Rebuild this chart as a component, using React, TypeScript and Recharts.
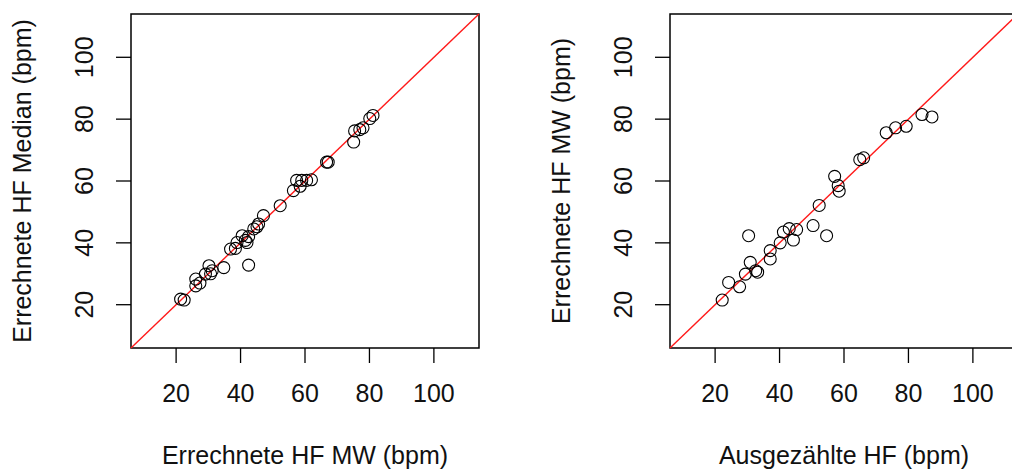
import {
  ReferenceArea,
  ReferenceLine,
  Scatter,
  ScatterChart,
  XAxis,
  YAxis,
} from "recharts";

// left panel: Errechnete HF MW (x) vs Errechnete HF Median (y)
const medianX = [
  21.4, 22.5, 26.1, 26.1, 27.4, 29.1, 30.2, 31.2, 30.7, 34.8, 42.5, 36.9, 38.4,
  38.9, 40.5, 41.5, 42.0, 42.5, 44.1, 45.1, 45.6, 47.1, 52.3, 56.4, 57.4, 58.5,
  59.0, 60.5, 62.0, 66.7, 67.2, 75.1, 75.4, 77.0, 78.0, 80.1, 81.1,
];
const medianY = [
  21.8, 21.5, 26.1, 28.3, 27.0, 29.9, 32.6, 31.0, 30.0, 32.0, 32.8, 38.0, 38.2,
  40.1, 42.3, 40.8, 40.1, 42.0, 44.5, 45.2, 46.1, 48.8, 52.0, 56.9, 60.2, 58.3,
  60.2, 60.2, 60.4, 66.1, 66.1, 72.6, 76.2, 76.6, 77.2, 80.2, 81.2,
];

// right panel: Ausgezählte HF (x) vs Errechnete HF MW (y)
const countedX = [
  22.2, 24.2, 27.6, 29.4, 30.4, 30.9, 33.2, 32.6, 37.1, 37.1, 40.2, 41.2, 43.0,
  44.3, 45.3, 50.4, 52.3, 54.6, 57.1, 58.2, 58.5, 64.9, 66.1, 73.1, 76.0, 79.3,
  84.2, 87.3,
];
const countedY = [
  21.5, 27.2, 25.8, 29.9, 42.3, 33.7, 30.5, 31.0, 37.5, 34.8, 40.0, 43.5, 44.6,
  40.9, 44.3, 45.6, 52.1, 42.3, 61.5, 58.5, 56.7, 66.9, 67.5, 75.6, 77.2, 77.7,
  81.5, 80.7,
];

const axisTicks = [20, 40, 60, 80, 100];
const axisDomain: [number, number] = [6, 114];

const FONT = "'Liberation Sans', Arial, Helvetica, sans-serif";
const FONT_SIZE = 25;

const toPoints = (xs: number[], ys: number[]) => xs.map((x, i) => ({ x, y: ys[i] }));

const XTick = ({ x, y, payload }: any) => (
  <text x={x} y={y + 39} textAnchor="middle" fontFamily={FONT} fontSize={FONT_SIZE} fill="#111">
    {payload.value}
  </text>
);

const YTick = ({ x, y, payload }: any) => {
  const bx = x - 23;
  return (
    <text
      x={bx}
      y={y}
      transform={`rotate(-90 ${bx} ${y})`}
      textAnchor="middle"
      fontFamily={FONT}
      fontSize={FONT_SIZE}
      fill="#111"
    >
      {payload.value}
    </text>
  );
};

const OpenCircle = (props: any) => (
  <circle cx={props.cx} cy={props.cy} r={6} fill="none" stroke="#000" strokeWidth={1.1} />
);

type PanelProps = {
  xs: number[];
  ys: number[];
  xTitle: string;
  yTitle: string;
  width: number;
  axisWidth: number;
};

function Panel({ xs, ys, xTitle, yTitle, width, axisWidth }: PanelProps) {
  const data = toPoints(xs, ys);
  const plotW = 348;
  return (
    <ScatterChart
      width={width}
      height={472}
      margin={{ top: 14, right: width - axisWidth - plotW, bottom: 0, left: 0 }}
    >
      <XAxis
        type="number"
        dataKey="x"
        domain={axisDomain}
        ticks={axisTicks}
        allowDataOverflow
        height={124}
        axisLine={false}
        tickSize={15}
        tickMargin={0}
        tickLine={{ stroke: "#000", strokeWidth: 1.3 }}
        tick={<XTick />}
        label={{
          content: ({ viewBox }: any) => (
            <text
              x={viewBox.x + viewBox.width / 2}
              y={viewBox.y + 116}
              textAnchor="middle"
              fontFamily={FONT}
              fontSize={FONT_SIZE}
              fill="#111"
            >
              {xTitle}
            </text>
          ),
        }}
      />
      <YAxis
        type="number"
        dataKey="y"
        domain={axisDomain}
        ticks={axisTicks}
        allowDataOverflow
        width={axisWidth}
        axisLine={false}
        tickSize={15}
        tickMargin={0}
        tickLine={{ stroke: "#000", strokeWidth: 1.3 }}
        tick={<YTick />}
        label={{
          content: ({ viewBox }: any) => {
            const bx = viewBox.x + viewBox.width - 100;
            const cy = viewBox.y + viewBox.height / 2;
            return (
              <text
                x={bx}
                y={cy}
                transform={`rotate(-90 ${bx} ${cy})`}
                textAnchor="middle"
                fontFamily={FONT}
                fontSize={FONT_SIZE}
                fill="#111"
              >
                {yTitle}
              </text>
            );
          },
        }}
      />
      <ReferenceLine
        segment={[
          { x: axisDomain[0], y: axisDomain[0] },
          { x: axisDomain[1], y: axisDomain[1] },
        ]}
        stroke="#ff1a1a"
        strokeWidth={1.4}
      />
      <Scatter data={data} shape={OpenCircle} isAnimationActive={false} />
      <ReferenceArea
        x1={axisDomain[0]}
        x2={axisDomain[1]}
        y1={axisDomain[0]}
        y2={axisDomain[1]}
        fill="none"
        fillOpacity={0}
        stroke="#000"
        strokeWidth={1.5}
      />
    </ScatterChart>
  );
}

export default function App() {
  return (
    <div
      style={{
        position: "absolute",
        left: 0,
        top: 0,
        width: 1012,
        height: 472,
        overflow: "hidden",
        background: "#fff",
      }}
    >
      <div style={{ position: "absolute", left: 0, top: 0 }}>
        <Panel
          xs={medianX}
          ys={medianY}
          xTitle="Errechnete HF MW (bpm)"
          yTitle="Errechnete HF Median (bpm)"
          width={506}
          axisWidth={131}
        />
      </div>
      <div style={{ position: "absolute", left: 506, top: 0 }}>
        <Panel
          xs={countedX}
          ys={countedY}
          xTitle="Ausgezählte HF (bpm)"
          yTitle="Errechnete HF MW (bpm)"
          width={530}
          axisWidth={164}
        />
      </div>
    </div>
  );
}
